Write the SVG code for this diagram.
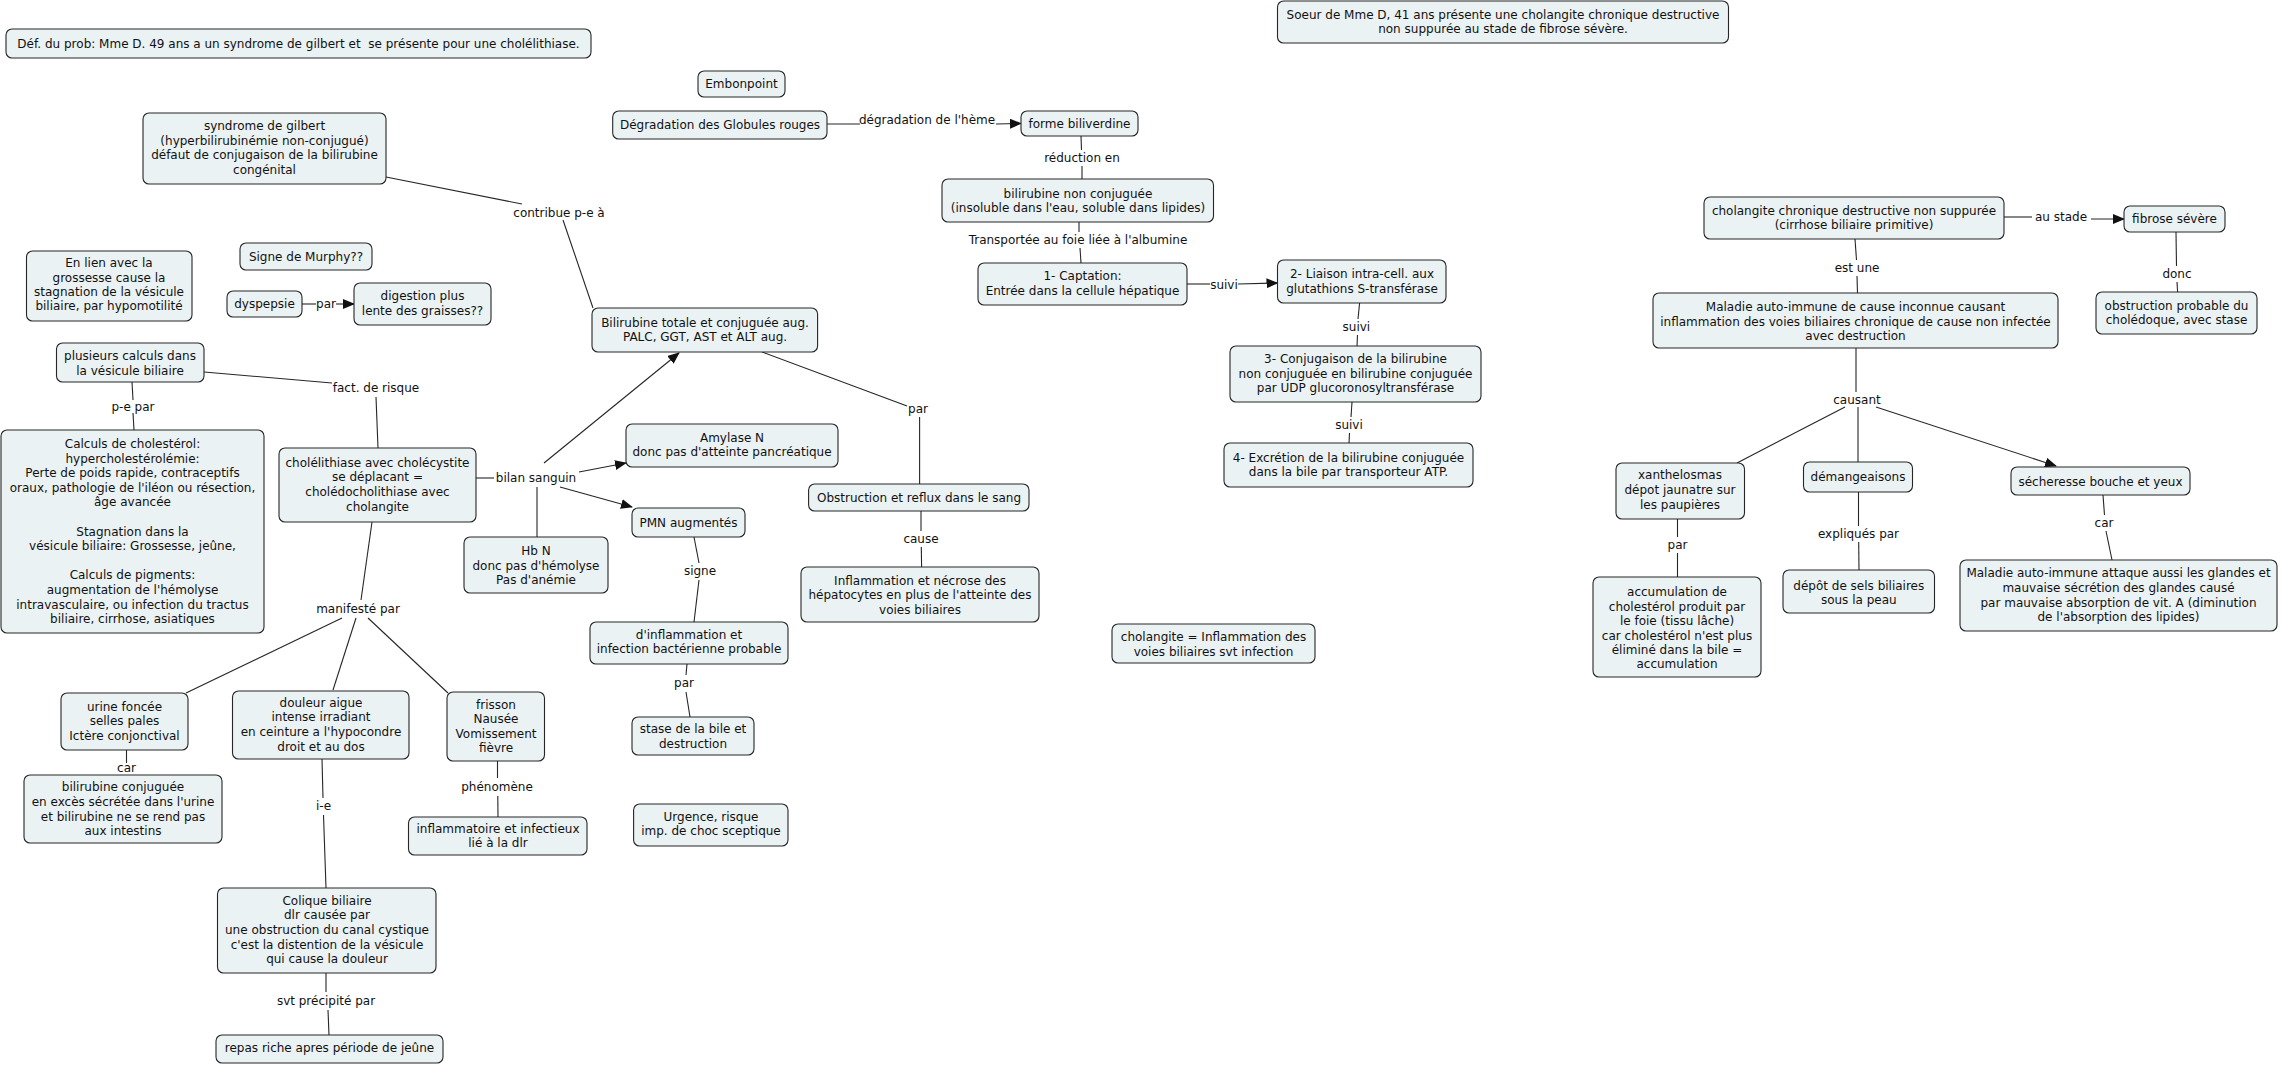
<svg xmlns="http://www.w3.org/2000/svg" width="2281" height="1066" viewBox="0 0 2281 1066">
<style>
.node rect{fill:#ebf2f4;stroke:#262626;stroke-width:1.1}
text{font-family:"DejaVu Sans","Liberation Sans",sans-serif;font-size:12px;fill:#111;text-anchor:middle}
.conn line{stroke:#262626;stroke-width:1.1;fill:none}
.conn line.a{marker-end:url(#arr)}
</style>
<defs>
<marker id="arr" markerUnits="userSpaceOnUse" markerWidth="12" markerHeight="10" refX="11" refY="5" orient="auto"><path d="M0,0 L12,5 L0,10 z" fill="#111"/></marker>
</defs>
<rect width="2281" height="1066" fill="#fff"/>
<g id="connectors" class="conn">
<line x1="386" y1="177" x2="522" y2="204"/><line x1="563" y1="220" x2="593" y2="308"/>
<line x1="302" y1="304" x2="316" y2="304"/><line class="a" x1="336" y1="304" x2="354" y2="304"/>
<line x1="204" y1="372" x2="332" y2="383"/><line x1="376" y1="397" x2="378" y2="448"/>
<line x1="132" y1="382" x2="133" y2="400"/><line x1="133" y1="413" x2="134" y2="430"/>
<line x1="476" y1="478" x2="494" y2="478"/>
<line class="a" x1="544" y1="463" x2="679" y2="353"/>
<line class="a" x1="579" y1="472" x2="626" y2="463"/>
<line class="a" x1="560" y1="487" x2="632" y2="507"/>
<line x1="537" y1="487" x2="537" y2="537"/>
<line x1="372" y1="522" x2="361" y2="600"/>
<line x1="342" y1="618" x2="186" y2="693"/>
<line x1="356" y1="618" x2="333" y2="690"/>
<line x1="368" y1="618" x2="448" y2="693"/>
<line x1="126.5" y1="750" x2="126.5" y2="763"/>
<line x1="322" y1="759" x2="323" y2="798"/><line x1="323.5" y1="815" x2="326" y2="888"/>
<line x1="497.5" y1="761" x2="497.5" y2="778"/><line x1="497.8" y1="796" x2="498" y2="817"/>
<line x1="326" y1="973" x2="326" y2="992"/><line x1="328" y1="1010" x2="329" y2="1035"/>
<line x1="827" y1="124" x2="860" y2="124"/><line class="a" x1="996" y1="124" x2="1021" y2="123.5"/>
<line x1="1081" y1="136" x2="1081.5" y2="150"/><line x1="1082" y1="166" x2="1082" y2="179"/>
<line x1="1079" y1="222" x2="1079" y2="232"/><line x1="1080" y1="248" x2="1081" y2="263"/>
<line x1="1187" y1="284" x2="1210" y2="284"/><line class="a" x1="1238" y1="284" x2="1277.5" y2="283"/>
<line x1="1359.6" y1="303" x2="1358" y2="319"/><line x1="1357.5" y1="335" x2="1357" y2="346"/>
<line x1="1352" y1="402" x2="1351" y2="417"/><line x1="1349.5" y1="433" x2="1349" y2="443"/>
<line x1="762" y1="352" x2="907" y2="406"/><line x1="919.6" y1="417" x2="919.6" y2="484"/>
<line x1="921" y1="511" x2="921" y2="531"/><line x1="921.3" y1="547" x2="921.6" y2="567"/>
<line x1="694" y1="537" x2="699" y2="563"/><line x1="699" y1="580" x2="694" y2="622"/>
<line x1="687" y1="664" x2="686" y2="675"/><line x1="686" y1="692" x2="690" y2="717"/>
<line x1="2004" y1="217" x2="2032" y2="217"/><line class="a" x1="2091" y1="219" x2="2124" y2="219"/>
<line x1="2176" y1="232" x2="2176.5" y2="266"/><line x1="2177" y1="282" x2="2177.6" y2="292"/>
<line x1="1855" y1="239" x2="1856.5" y2="260"/><line x1="1857" y1="276" x2="1857.5" y2="293"/>
<line x1="1856" y1="348" x2="1856" y2="392"/>
<line x1="1845" y1="407" x2="1737" y2="463"/>
<line x1="1858" y1="407" x2="1858" y2="462"/>
<line class="a" x1="1876" y1="407" x2="2056" y2="466"/>
<line x1="1677.5" y1="519" x2="1677.5" y2="537"/><line x1="1677.5" y1="553" x2="1677.5" y2="577"/>
<line x1="1858.5" y1="492" x2="1858.5" y2="526"/><line x1="1858.7" y1="542" x2="1859" y2="570"/>
<line x1="2103" y1="495" x2="2104.5" y2="515"/><line x1="2106" y1="531" x2="2112" y2="560"/>
</g>
<g id="labels">
<text x="559" y="217">contribue p-e à</text>
<text x="326" y="308">par</text>
<text x="376" y="392">fact. de risque</text>
<text x="133" y="411">p-e par</text>
<text x="536" y="482">bilan sanguin</text>
<text x="358" y="613">manifesté par</text>
<text x="126.5" y="772">car</text>
<text x="323.5" y="810">i-e</text>
<text x="497" y="791">phénomène</text>
<text x="326" y="1005">svt précipité par</text>
<text x="927" y="124">dégradation de l'hème</text>
<text x="1082" y="162">réduction en</text>
<text x="1078" y="244">Transportée au foie liée à l'albumine</text>
<text x="1224" y="289">suivi</text>
<text x="1356.4" y="331">suivi</text>
<text x="1349" y="429">suivi</text>
<text x="918" y="413">par</text>
<text x="921" y="543">cause</text>
<text x="700" y="575">signe</text>
<text x="684" y="687">par</text>
<text x="2061" y="221">au stade</text>
<text x="2177" y="278">donc</text>
<text x="1857" y="272">est une</text>
<text x="1857" y="404">causant</text>
<text x="1677.5" y="549">par</text>
<text x="1858.5" y="538">expliqués par</text>
<text x="2104" y="527">car</text>
</g>
<g id="def" class="node"><rect x="6" y="29" width="585" height="29" rx="6"/><text x="298.5" y="48" xml:space="preserve">Déf. du prob: Mme D. 49 ans a un syndrome de gilbert et  se présente pour une cholélithiase.</text></g>
<g id="soeur" class="node"><rect x="1277.5" y="1" width="451" height="42" rx="6"/><text><tspan x="1503" y="19">Soeur de Mme D, 41 ans présente une cholangite chronique destructive</tspan><tspan x="1503" y="33">non suppurée au stade de fibrose sévère.</tspan></text></g>
<g id="embonpoint" class="node"><rect x="698" y="71" width="87" height="26" rx="6"/><text x="741.5" y="88">Embonpoint</text></g>
<g id="degradation" class="node"><rect x="612.7" y="111" width="214.3" height="28" rx="6"/><text x="720" y="129">Dégradation des Globules rouges</text></g>
<g id="biliverdine" class="node"><rect x="1021" y="111" width="117" height="25" rx="6"/><text x="1079.5" y="127.5">forme biliverdine</text></g>
<g id="bnc" class="node"><rect x="942" y="179" width="271.5" height="43" rx="6"/><text><tspan x="1078" y="198">bilirubine non conjuguée</tspan><tspan x="1078" y="212">(insoluble dans l'eau, soluble dans lipides)</tspan></text></g>
<g id="captation" class="node"><rect x="978" y="263" width="209" height="42" rx="6"/><text><tspan x="1082.5" y="280">1- Captation:</tspan><tspan x="1082.5" y="295">Entrée dans la cellule hépatique</tspan></text></g>
<g id="liaison" class="node"><rect x="1277.5" y="260" width="168.5" height="43" rx="6"/><text><tspan x="1362" y="278">2- Liaison intra-cell. aux</tspan><tspan x="1362" y="293">glutathions S-transférase</tspan></text></g>
<g id="conjug" class="node"><rect x="1230" y="346" width="251" height="56" rx="6"/><text><tspan x="1355.5" y="363">3- Conjugaison de la bilirubine</tspan><tspan x="1355.5" y="378">non conjuguée en bilirubine conjuguée</tspan><tspan x="1355.5" y="392">par UDP glucoronosyltransférase</tspan></text></g>
<g id="excretion" class="node"><rect x="1224" y="443" width="249" height="44" rx="6"/><text><tspan x="1348.5" y="462">4- Excrétion de la bilirubine conjuguée</tspan><tspan x="1348.5" y="476">dans la bile par transporteur ATP.</tspan></text></g>
<g id="gilbert" class="node"><rect x="143" y="113" width="243" height="71" rx="6"/><text><tspan x="264.5" y="130">syndrome de gilbert</tspan><tspan x="264.5" y="145">(hyperbilirubinémie non-conjugué)</tspan><tspan x="264.5" y="159">défaut de conjugaison de la bilirubine</tspan><tspan x="264.5" y="174">congénital</tspan></text></g>
<g id="enlien" class="node"><rect x="26.5" y="251" width="165.5" height="70" rx="6"/><text><tspan x="109" y="267">En lien avec la</tspan><tspan x="109" y="282">grossesse cause la</tspan><tspan x="109" y="296">stagnation de la vésicule</tspan><tspan x="109" y="310">biliaire, par hypomotilité</tspan></text></g>
<g id="murphy" class="node"><rect x="240" y="243" width="132" height="27" rx="6"/><text x="306" y="261">Signe de Murphy??</text></g>
<g id="dyspepsie" class="node"><rect x="227" y="291" width="75" height="26" rx="6"/><text x="264.5" y="307.5">dyspepsie</text></g>
<g id="digestion" class="node"><rect x="354" y="283" width="137" height="42" rx="6"/><text><tspan x="422.5" y="300">digestion plus</tspan><tspan x="422.5" y="315">lente des graisses??</tspan></text></g>
<g id="bilitot" class="node"><rect x="592" y="308" width="225.6" height="44" rx="6"/><text><tspan x="705" y="327">Bilirubine totale et conjuguée aug.</tspan><tspan x="705" y="341">PALC, GGT, AST et ALT aug.</tspan></text></g>
<g id="plusieurs" class="node"><rect x="56.5" y="343" width="147.5" height="39" rx="6"/><text><tspan x="130" y="360">plusieurs calculs dans</tspan><tspan x="130" y="375">la vésicule biliaire</tspan></text></g>
<g id="calculs" class="node"><rect x="1" y="430" width="263" height="203" rx="6"/><text><tspan x="132.5" y="448">Calculs de cholestérol:</tspan><tspan x="132.5" y="462.6">hypercholestérolémie:</tspan><tspan x="132.5" y="477.2">Perte de poids rapide, contraceptifs</tspan><tspan x="132.5" y="491.8">oraux, pathologie de l'iléon ou résection,</tspan><tspan x="132.5" y="506.4">âge avancée</tspan><tspan x="132.5" y="535.6">Stagnation dans la</tspan><tspan x="132.5" y="550.2">vésicule biliaire: Grossesse, jeûne,</tspan><tspan x="132.5" y="579.4">Calculs de pigments:</tspan><tspan x="132.5" y="594">augmentation de l'hémolyse</tspan><tspan x="132.5" y="608.6">intravasculaire, ou infection du tractus</tspan><tspan x="132.5" y="623.2">biliaire, cirrhose, asiatiques</tspan></text></g>
<g id="cholelithiase" class="node"><rect x="279" y="448" width="197" height="74" rx="6"/><text><tspan x="377.5" y="467">cholélithiase avec cholécystite</tspan><tspan x="377.5" y="481">se déplacant =</tspan><tspan x="377.5" y="496">cholédocholithiase avec</tspan><tspan x="377.5" y="511">cholangite</tspan></text></g>
<g id="hbn" class="node"><rect x="464" y="537" width="144" height="56" rx="6"/><text><tspan x="536" y="555">Hb N</tspan><tspan x="536" y="570">donc pas d'hémolyse</tspan><tspan x="536" y="584">Pas d'anémie</tspan></text></g>
<g id="amylase" class="node"><rect x="626" y="424" width="212" height="43" rx="6"/><text><tspan x="732" y="442">Amylase N</tspan><tspan x="732" y="456">donc pas d'atteinte pancréatique</tspan></text></g>
<g id="pmn" class="node"><rect x="632" y="508" width="113" height="29" rx="6"/><text x="688.5" y="527">PMN augmentés</text></g>
<g id="obstruction" class="node"><rect x="808.6" y="484" width="220.4" height="27" rx="6"/><text x="919" y="501.5">Obstruction et reflux dans le sang</text></g>
<g id="inflamnecrose" class="node"><rect x="801" y="567" width="238" height="55" rx="6"/><text><tspan x="920" y="585">Inflammation et nécrose des</tspan><tspan x="920" y="599">hépatocytes en plus de l'atteinte des</tspan><tspan x="920" y="614">voies biliaires</tspan></text></g>
<g id="dinflam" class="node"><rect x="590" y="622" width="198" height="42" rx="6"/><text><tspan x="689" y="639">d'inflammation et</tspan><tspan x="689" y="653">infection bactérienne probable</tspan></text></g>
<g id="stase" class="node"><rect x="632" y="717" width="122" height="38" rx="6"/><text><tspan x="693" y="733">stase de la bile et</tspan><tspan x="693" y="748">destruction</tspan></text></g>
<g id="urgence" class="node"><rect x="633.6" y="804" width="154.4" height="42" rx="6"/><text><tspan x="711" y="821">Urgence, risque</tspan><tspan x="711" y="835">imp. de choc sceptique</tspan></text></g>
<g id="cholangiteEq" class="node"><rect x="1112" y="624" width="203" height="39" rx="6"/><text><tspan x="1213.5" y="641">cholangite = Inflammation des</tspan><tspan x="1213.5" y="656">voies biliaires svt infection</tspan></text></g>
<g id="urine" class="node"><rect x="61" y="693" width="127" height="57" rx="6"/><text><tspan x="124.5" y="711">urine foncée</tspan><tspan x="124.5" y="725">selles pales</tspan><tspan x="124.5" y="740">Ictère conjonctival</tspan></text></g>
<g id="bilconj" class="node"><rect x="24" y="775" width="198" height="68" rx="6"/><text><tspan x="123" y="791">bilirubine conjuguée</tspan><tspan x="123" y="806">en excès sécrétée dans l'urine</tspan><tspan x="123" y="821">et bilirubine ne se rend pas</tspan><tspan x="123" y="835">aux intestins</tspan></text></g>
<g id="douleur" class="node"><rect x="232.5" y="691" width="176.5" height="68" rx="6"/><text><tspan x="321" y="707">douleur aigue</tspan><tspan x="321" y="721">intense irradiant</tspan><tspan x="321" y="736">en ceinture a l'hypocondre</tspan><tspan x="321" y="751">droit et au dos</tspan></text></g>
<g id="frisson" class="node"><rect x="447" y="692" width="97.5" height="69" rx="6"/><text><tspan x="496" y="709">frisson</tspan><tspan x="496" y="723">Nausée</tspan><tspan x="496" y="738">Vomissement</tspan><tspan x="496" y="752">fièvre</tspan></text></g>
<g id="inflamminf" class="node"><rect x="408.5" y="817" width="178.5" height="38" rx="6"/><text><tspan x="498" y="833">inflammatoire et infectieux</tspan><tspan x="498" y="847">lié à la dlr</tspan></text></g>
<g id="colique" class="node"><rect x="217.5" y="888" width="218.5" height="85" rx="6"/><text><tspan x="327" y="905">Colique biliaire</tspan><tspan x="327" y="919">dlr causée par</tspan><tspan x="327" y="934">une obstruction du canal cystique</tspan><tspan x="327" y="949">c'est la distention de la vésicule</tspan><tspan x="327" y="963">qui cause la douleur</tspan></text></g>
<g id="repas" class="node"><rect x="216" y="1035" width="227" height="28" rx="6"/><text x="329.5" y="1052">repas riche apres période de jeûne</text></g>
<g id="ccdns" class="node"><rect x="1704" y="197" width="300" height="42" rx="6"/><text><tspan x="1854" y="215">cholangite chronique destructive non suppurée</tspan><tspan x="1854" y="229">(cirrhose biliaire primitive)</tspan></text></g>
<g id="fibrose" class="node"><rect x="2124" y="206" width="101" height="26" rx="6"/><text x="2174.5" y="223">fibrose sévère</text></g>
<g id="obstprob" class="node"><rect x="2096" y="292" width="161" height="42" rx="6"/><text><tspan x="2176.5" y="310">obstruction probable du</tspan><tspan x="2176.5" y="324">cholédoque, avec stase</tspan></text></g>
<g id="maladie" class="node"><rect x="1653" y="293" width="405" height="55" rx="6"/><text><tspan x="1855.5" y="311">Maladie auto-immune de cause inconnue causant</tspan><tspan x="1855.5" y="326">inflammation des voies biliaires chronique de cause non infectée</tspan><tspan x="1855.5" y="340">avec destruction</tspan></text></g>
<g id="xanth" class="node"><rect x="1616" y="463" width="128.5" height="56" rx="6"/><text><tspan x="1680" y="479">xanthelosmas</tspan><tspan x="1680" y="494">dépot jaunatre sur</tspan><tspan x="1680" y="509">les paupières</tspan></text></g>
<g id="demang" class="node"><rect x="1803.5" y="462" width="109" height="30" rx="6"/><text x="1858" y="481">démangeaisons</text></g>
<g id="secher" class="node"><rect x="2011" y="467" width="179" height="28" rx="6"/><text x="2100.5" y="486">sécheresse bouche et yeux</text></g>
<g id="accum" class="node"><rect x="1593" y="577" width="168" height="100" rx="6"/><text><tspan x="1677" y="596">accumulation de</tspan><tspan x="1677" y="611">cholestérol produit par</tspan><tspan x="1677" y="625">le foie (tissu lâche)</tspan><tspan x="1677" y="640">car cholestérol n'est plus</tspan><tspan x="1677" y="654">éliminé dans la bile =</tspan><tspan x="1677" y="668">accumulation</tspan></text></g>
<g id="depot" class="node"><rect x="1783" y="570" width="151.5" height="43" rx="6"/><text><tspan x="1858.8" y="590">dépôt de sels biliaires</tspan><tspan x="1858.8" y="604">sous la peau</tspan></text></g>
<g id="maladieAtt" class="node"><rect x="1960" y="560" width="317" height="71" rx="6"/><text><tspan x="2118.5" y="577">Maladie auto-immune attaque aussi les glandes et</tspan><tspan x="2118.5" y="592">mauvaise sécrétion des glandes causé</tspan><tspan x="2118.5" y="607">par mauvaise absorption de vit. A (diminution</tspan><tspan x="2118.5" y="621">de l'absorption des lipides)</tspan></text></g>
</svg>
